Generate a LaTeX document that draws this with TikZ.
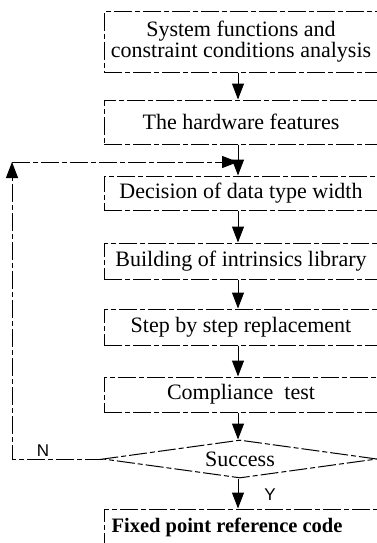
\documentclass[tikz,border=0pt]{standalone}
\usepackage{fontspec}
\setmainfont{Liberation Serif}
\newfontfamily\labelfont{Liberation Sans}
\usetikzlibrary{arrows.meta,shapes.geometric}

\tikzset{
  scanline/.style={line width=1pt, dash pattern=on 18pt off 3pt on 5pt off 3pt},
  stepbox/.style={scanline, draw, rectangle, minimum width=274pt, inner sep=0pt,
    font=\fontsize{22}{25}\selectfont, align=center},
  testbox/.style={scanline, draw, diamond, aspect=7, minimum width=274pt,
    minimum height=38pt, inner sep=0pt, font=\fontsize{22}{25}\selectfont},
  flow/.style={scanline, -{Triangle[length=16pt,width=12pt]}},
  yn/.style={font=\labelfont\fontsize{17}{19}\selectfont, inner sep=0pt}
}

\begin{document}
\begin{tikzpicture}[x=1pt, y=-1pt]
  \useasboundingbox (0,0) rectangle (377,543);

  % vertical axis of the flow
  \coordinate (axis) at (238,0);

  % process steps (boxes run past the right edge of the page)
  \node[stepbox, minimum height=60pt] (b1) at (241,42)
    {System functions and\\[-4pt]constraint conditions analysis};
  \node[stepbox, minimum height=44pt] (b2) at (241,122) {The hardware features};
  \node[stepbox, minimum height=34pt] (b3) at (241,193) {Decision of data type width};
  \node[stepbox, minimum height=36pt] (b4) at (241,261) {Building of intrinsics library};
  \node[stepbox, minimum height=36pt] (b5) at (241,327) {Step by step replacement};
  \node[stepbox, minimum height=35pt] (b6) at (241,394.5) {Compliance\ \ test};
  \node[testbox] (d) at (240,459) {Success};
  \node[stepbox, minimum height=37pt, font=\bfseries\fontsize{20.5}{24}\selectfont]
    (b7) at (241,527.5) {\hspace*{-28pt}Fixed point reference code};

  % forward flow
  \draw[flow] (b1.south -| axis) -- (b2.north -| axis);
  \draw[flow] (b2.south -| axis) -- (b3.north -| axis);
  \draw[flow] (b3.south -| axis) -- (b4.north -| axis);
  \draw[flow] (b4.south -| axis) -- (b5.north -| axis);
  \draw[flow] (b5.south -| axis) -- (b6.north -| axis);
  \draw[flow] (b6.south -| axis) -- (d.north -| axis);
  \draw[flow] (d.south -| axis) -- (b7.north -| axis);

  % feedback loop on failure
  \coordinate (fbL) at (12,459);
  \coordinate (fbT) at (12,162);
  \coordinate (fbJ) at (238,162);
  \draw[flow] (d.west) -- (fbL) -- (fbT);
  \draw[flow] (fbT) -- (fbJ);

  % branch labels
  \node[yn] (lblN) at (43,451) {N};
  \node[yn] (lblY) at (270,495) {Y};
\end{tikzpicture}
\end{document}
